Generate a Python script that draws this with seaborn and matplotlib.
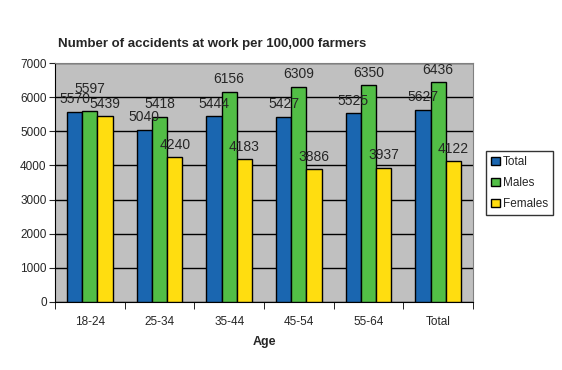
import pandas as pd
import numpy as np
import matplotlib
matplotlib.use('Agg')
import matplotlib.pyplot as plt
import seaborn as sns

ages = ['18-24', '25-34', '35-44', '45-54', '55-64', 'Total']
total = [5570, 5040, 5444, 5427, 5525, 5627]
males = [5597, 5418, 6156, 6309, 6350, 6436]
females = [5439, 4240, 4183, 3886, 3937, 4122]
series = ['Total', 'Males', 'Females']
colors = ['#1A66B0', '#52BE46', '#FFDD10']

df = pd.DataFrame({'Age': ages * 3,
                   'value': total + males + females,
                   'series': [s for s in series for _ in ages]})

sns.set_style('white')
plt.rcParams['font.family'] = ['Liberation Sans', 'DejaVu Sans']

fig = plt.figure(figsize=(5.62, 3.70), dpi=100)
ax = fig.add_axes([55/562, 1 - 302/370, (473-55)/562, (302-63)/370])
ax.set_facecolor('#C0C0C0')

sns.barplot(data=df, x='Age', y='value', hue='series', palette=colors, saturation=1,
            width=0.66, edgecolor='black', linewidth=1, ax=ax, zorder=3)

for i, cont in enumerate(ax.containers):
    anns = ax.bar_label(cont, fmt='%d', fontsize=10, padding=4, zorder=5)
    # Excel pushed the first Males label up to clear its neighbours
    if i == 1:
        anns[0].xyann = (0, 11)

ax.set_ylim(0, 7000)
ax.set_xlim(-0.5, 5.5)
ax.set_yticks(range(0, 7001, 1000))
ax.yaxis.grid(True, color='black', linewidth=1, zorder=0)
ax.set_axisbelow(True)
ax.tick_params(axis='y', labelsize=8.5, length=4, direction='out', left=True, pad=2)
ax.set_xticks(range(len(ages)))
ax.set_xticklabels(ages, fontsize=8.5)
ax.tick_params(axis='x', length=0, pad=10)
ax.set_xticks(np.arange(-0.5, 6, 1), minor=True)
ax.tick_params(axis='x', which='minor', length=5, direction='out', bottom=True, color='black')
ax.set_xlabel('Age', fontsize=9, fontweight='bold', labelpad=6)
ax.set_ylabel('')

for s in ['top', 'right']:
    ax.spines[s].set_color('#808080')
for s in ['left', 'bottom']:
    ax.spines[s].set_color('black')

handles, labels = ax.get_legend_handles_labels()
leg = ax.legend(handles, labels, loc='center left', bbox_to_anchor=(486/562, 1 - 183/370),
                bbox_transform=fig.transFigure, fontsize=8.5, frameon=True, fancybox=False,
                edgecolor='black', handlelength=0.7, handleheight=0.7, handletextpad=0.25,
                labelspacing=0.75, borderpad=0.45, borderaxespad=0)
leg.get_frame().set_linewidth(1)

fig.text(58/562, 1 - 44/370, 'Number of accidents at work per 100,000 farmers',
         fontsize=9.5, fontweight='bold', va='center', ha='left')

fig.savefig('out.png', dpi=100)
